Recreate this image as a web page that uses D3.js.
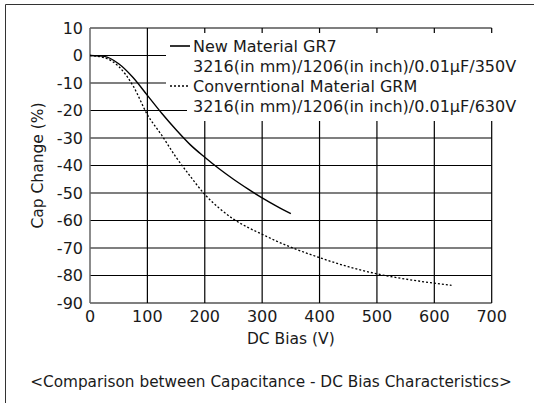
<!DOCTYPE html>
<html>
<head>
<meta charset="utf-8">
<script src="https://cdn.jsdelivr.net/npm/d3@7"></script>
<style>
  body { margin: 0; background: #fff; }
  svg text { font-family: "DejaVu Sans", sans-serif; fill: #1a1a1a; }
</style>
</head>
<body>
<div id="chart"></div>
<script>
// data
var biasGR7 = [0, 25, 50, 75, 100, 125, 150, 175, 200, 225, 250, 275, 300, 325, 350];
var capGR7 = [0, -0.3, -3, -8, -14.5, -21, -27, -32.5, -37, -41.2, -45, -48.5, -51.8, -54.8, -57.5];

var biasGRM = [0, 25, 50, 75, 100, 125, 150, 175, 200, 225, 250, 275, 300, 325, 350, 400, 450, 500, 550, 600, 630];
var capGRM = [0, -0.8, -4, -11, -21.5, -29, -37, -44, -50.5, -55.5, -59.5, -62.5, -65, -67.5, -69.7, -73.5, -76.8, -79.4, -81.3, -82.8, -83.6];

var xTicks = [0, 100, 200, 300, 400, 500, 600, 700];
var yTicks = [10, 0, -10, -20, -30, -40, -50, -60, -70, -80, -90];

var legendLines = [
	"New Material GR7",
	"3216(in mm)/1206(in inch)/0.01μF/350V",
	"Converntional Material GRM",
	"3216(in mm)/1206(in inch)/0.01μF/630V"
];

var width = 534;
var height = 403;
var plotLeft = 90, plotRight = 491.7, plotTop = 28, plotBottom = 303;

var svg = d3.select('#chart')
	.append('svg')
	.attr('width', width)
	.attr('height', height);

// outer frame (only left and top edges are visible in the picture)
svg.append('path')
	.attr('d', 'M5.5,' + height + 'V4.5H' + width)
	.attr('fill', 'none')
	.attr('stroke', '#333')
	.attr('stroke-width', 1);

var x = d3.scaleLinear().domain([0, 700]).range([plotLeft, plotRight]);
var y = d3.scaleLinear().domain([-90, 10]).range([plotBottom, plotTop]);

// grid
svg.append('g').selectAll('line')
	.data(xTicks.slice(1))
	.enter().append('line')
	.attr('x1', function (d) { return x(d); })
	.attr('x2', function (d) { return x(d); })
	.attr('y1', plotTop).attr('y2', plotBottom)
	.attr('stroke', '#000').attr('stroke-width', 1.2);

svg.append('g').selectAll('line')
	.data(yTicks)
	.enter().append('line')
	.attr('x1', plotLeft).attr('x2', plotRight)
	.attr('y1', function (d) { return y(d); })
	.attr('y2', function (d) { return y(d); })
	.attr('stroke', '#000').attr('stroke-width', 1.2);

// left axis line is a bit lighter
svg.append('line')
	.attr('x1', plotLeft).attr('x2', plotLeft)
	.attr('y1', plotTop).attr('y2', plotBottom)
	.attr('stroke', '#666').attr('stroke-width', 1.5);

// tick labels
svg.append('g').selectAll('text')
	.data(xTicks)
	.enter().append('text')
	.attr('x', function (d) { return x(d); })
	.attr('y', plotBottom + 19)
	.attr('text-anchor', 'middle')
	.style('font-size', '16px')
	.text(function (d) { return d; });

svg.append('g').selectAll('text')
	.data(yTicks)
	.enter().append('text')
	.attr('x', plotLeft - 7)
	.attr('y', function (d) { return y(d) + 5.5; })
	.attr('text-anchor', 'end')
	.style('font-size', '16px')
	.text(function (d) { return d; });

// axis titles
svg.append('text')
	.attr('x', (plotLeft + plotRight) / 2)
	.attr('y', 344)
	.attr('text-anchor', 'middle')
	.style('font-size', '15.5px')
	.text('DC Bias (V)');

svg.append('text')
	.attr('transform', 'translate(43,' + ((plotTop + plotBottom) / 2) + ') rotate(-90)')
	.attr('text-anchor', 'middle')
	.style('font-size', '15.5px')
	.text('Cap Change (%)');

// curves
var line = d3.line()
	.x(function (d) { return x(d[0]); })
	.y(function (d) { return y(d[1]); })
	.curve(d3.curveMonotoneX);

svg.append('path')
	.datum(d3.zip(biasGRM, capGRM))
	.attr('d', line)
	.attr('fill', 'none')
	.attr('stroke', '#000')
	.attr('stroke-width', 1.3)
	.attr('stroke-dasharray', '2,2');

svg.append('path')
	.datum(d3.zip(biasGR7, capGR7))
	.attr('d', line)
	.attr('fill', 'none')
	.attr('stroke', '#000')
	.attr('stroke-width', 1.4);

// legend with white background behind each row
var rowY = [46, 66, 86, 106];
var rowX = [166, 187, 166, 187];
var legend = svg.append('g');

legend.selectAll('rect')
	.data(legendLines)
	.enter().append('rect')
	.attr('x', function (d, i) { return rowX[i]; })
	.attr('y', function (d, i) { return i == 0 ? 33 : rowY[i] - 10; })
	.attr('width', function (d, i) { return 526 - rowX[i]; })
	.attr('height', function (d, i) { return i == 0 ? 23 : (i == 3 ? 25 : 20); })
	.attr('fill', '#fff');

legend.append('line')
	.attr('x1', 170).attr('x2', 190)
	.attr('y1', rowY[0]).attr('y2', rowY[0])
	.attr('stroke', '#000').attr('stroke-width', 1.6);

legend.append('line')
	.attr('x1', 170).attr('x2', 190)
	.attr('y1', rowY[2]).attr('y2', rowY[2])
	.attr('stroke', '#000').attr('stroke-width', 1.3)
	.attr('stroke-dasharray', '2,2');

legend.selectAll('text')
	.data(legendLines)
	.enter().append('text')
	.attr('x', 193)
	.attr('y', function (d, i) { return rowY[i] + 5.5; })
	.style('font-size', '16px')
	.text(function (d) { return d; });

// caption
svg.append('text')
	.attr('x', 271)
	.attr('y', 387)
	.attr('text-anchor', 'middle')
	.style('font-size', '15.3px')
	.text('<Comparison between Capacitance - DC Bias Characteristics>');
</script>
</body>
</html>
